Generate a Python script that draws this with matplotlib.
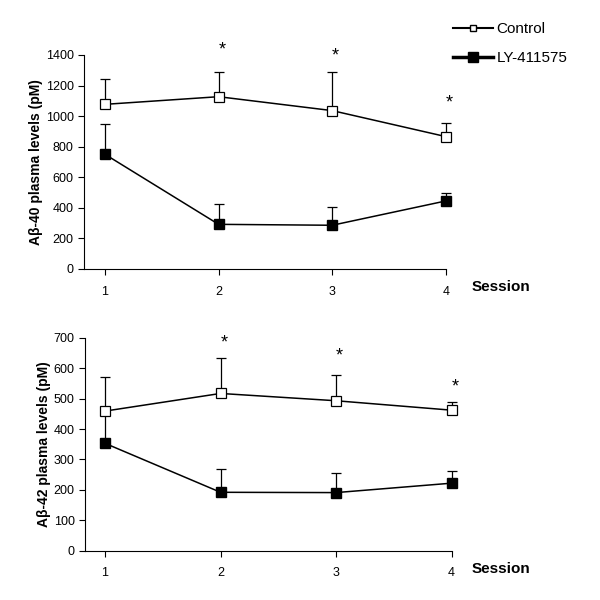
import matplotlib.pyplot as plt
from matplotlib.lines import Line2D

plt.rcParams['font.family'] = ['Liberation Sans', 'DejaVu Sans']

sessions = [1, 2, 3, 4]

# A-beta 40 (pM)
ctrl40 = [1077, 1127, 1036, 866]
ctrl40_err = [168, 162, 250, 91]
ly40 = [750, 292, 286, 445]
ly40_err = [196, 131, 117, 50]
stars40 = [(2, 1430), (3, 1395), (4, 1088)]

# A-beta 42 (pM)
ctrl42 = [459, 517, 493, 462]
ctrl42_err = [113, 117, 85, 26]
ly42 = [353, 192, 191, 222]
ly42_err = [100, 75, 65, 41]
stars42 = [(2, 682), (3, 639), (4, 537)]


def panel(ax, ctrl, ctrl_err, ly, ly_err, stars, ymax, ystep, ylabel, xlo):
    ax.errorbar(sessions, ly, yerr=[[0] * 4, ly_err], color='black', lw=1.1,
                elinewidth=0.9, capsize=3.5, capthick=0.9, marker='s', ms=7.5,
                mfc='black', mec='black', clip_on=False, zorder=3)
    ax.errorbar(sessions, ctrl, yerr=[[0] * 4, ctrl_err], color='black', lw=1.1,
                elinewidth=0.9, capsize=3.5, capthick=0.9, marker='s', ms=7,
                mfc='white', mec='black', mew=0.9, clip_on=False, zorder=4)
    for x, y in stars:
        ax.text(x + 0.03, y, '*', ha='center', va='center', fontsize=13)
    ax.set_xlim(xlo, 4)
    ax.set_ylim(0, ymax)
    ax.set_yticks(range(0, ymax + 1, ystep))
    ax.set_xticks(sessions)
    ax.spines['top'].set_visible(False)
    ax.spines['right'].set_visible(False)
    ax.tick_params(labelsize=9, length=4, width=0.8)
    ax.tick_params(axis='x', pad=8)
    ax.set_ylabel(ylabel, fontsize=10, fontweight='bold', labelpad=2)


fig = plt.figure(figsize=(6, 6), dpi=100)
ax1 = fig.add_axes([0.14, 0.5517, 0.603, 0.3567])
ax2 = fig.add_axes([0.1417, 0.0822, 0.611, 0.3548])

panel(ax1, ctrl40, ctrl40_err, ly40, ly40_err, stars40, 1400, 200,
      'Aβ-40 plasma levels (pM)', 0.815)
panel(ax2, ctrl42, ctrl42_err, ly42, ly42_err, stars42, 700, 100,
      'Aβ-42 plasma levels (pM)', 0.827)

fig.text(472 / 600, 1 - 287 / 600, 'Session', fontsize=11, fontweight='bold',
         va='center', ha='left')
fig.text(472 / 600, 1 - 569 / 600, 'Session', fontsize=11, fontweight='bold',
         va='center', ha='left')

handles = [Line2D([], [], color='black', lw=1.5, marker='s', ms=5, mfc='white', mec='black'),
           Line2D([], [], color='black', lw=2.5, marker='s', ms=7, mfc='black', mec='black')]
fig.legend(handles, ['Control', 'LY-411575'], loc='upper left',
           bbox_to_anchor=(453 / 600, 1 - 22 / 600), frameon=False, fontsize=11,
           handlelength=2.6, handletextpad=0.25, labelspacing=0.98,
           borderpad=0, borderaxespad=0)

fig.savefig('out.png', dpi=100)
